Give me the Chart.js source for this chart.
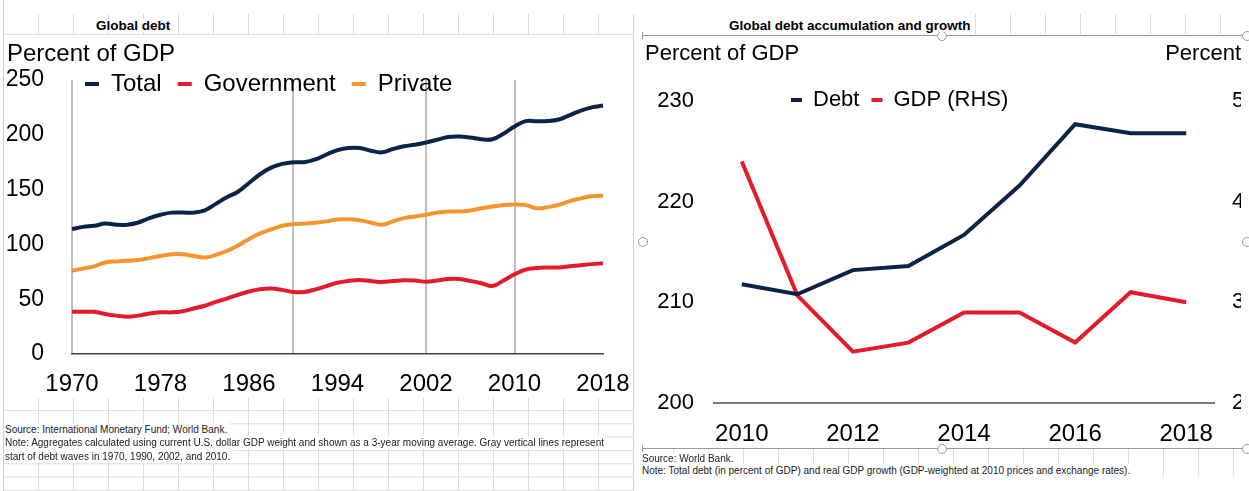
<!DOCTYPE html>
<html>
<head>
<meta charset="utf-8">
<title>Global debt</title>
<script src="https://cdn.jsdelivr.net/npm/chart.js@4.4.1/dist/chart.umd.min.js"></script>
<style>
  html, body { margin: 0; padding: 0; width: 1249px; height: 491px; overflow: hidden; background: #fff; }
  body { position: relative; font-family: 'Liberation Sans', Arial, sans-serif; color: #000; }
  .abs { position: absolute; }
  .cols { background-image: linear-gradient(to right, #dcdcdc 1px, transparent 1px); background-size: 35px 100%; }
  .rows { background-image: linear-gradient(to bottom, #dcdcdc 1px, transparent 1px); background-size: 100% 13.33px; }
  .cell { position: absolute; white-space: nowrap; background: #fff; line-height: 13px; height: 13px; padding-right: 3px; }
  .hdr { font-weight: bold; font-size: 13.5px; }
  .note { font-size: 10px; color: #222; }
  .handle { position: absolute; width: 8px; height: 8px; border: 1px solid #9a9a9a; border-radius: 50%; background: #fff; }
  canvas { position: absolute; }
</style>
</head>
<body>
  <!-- spreadsheet grid around the two charts -->
  <div class="abs cols" style="left:3px; top:14px; width:630px; height:20px; border-bottom:1px solid #dcdcdc;"></div>
  <div class="abs cols" style="left:975px; top:14px; width:274px; height:20px;"></div>
  <div class="abs cols" style="left:3px; top:398px; width:630px; height:93px;"></div>
  <div class="abs rows" style="left:3px; top:410px; width:630px; height:81px;"></div>
  <div class="abs cols" style="left:641px; top:449px; width:608px; height:28px; background-position:32px 0;"></div>
  <div class="abs" style="left:3px; top:0; width:1px; height:491px; background:#d0d0d0;"></div>
  <div class="abs" style="left:633px; top:14px; width:1px; height:477px; background:#d0d0d0;"></div>

  <!-- chart panels -->
  <div class="abs" style="left:4px; top:35px; width:629px; height:363px; background:#fff;"></div>
  <div class="abs" style="left:641px; top:36px; width:608px; height:412px; background:#fff;"></div>

  <!-- selection frame of the right chart -->
  <div class="abs" style="left:642px; top:35px; width:607px; height:1px; background:#9a9a9a;"></div>
  <div class="abs" style="left:642px; top:448px; width:607px; height:1px; background:#9a9a9a;"></div>
  <div class="abs" style="left:642px; top:32px; width:1px; height:7px; background:#9a9a9a;"></div>
  <div class="abs" style="left:642px; top:445px; width:1px; height:7px; background:#9a9a9a;"></div>
  <div class="handle" style="left:937px; top:31px;"></div>
  <div class="handle" style="left:1242px; top:31px;"></div>
  <div class="handle" style="left:937px; top:444px;"></div>
  <div class="handle" style="left:1242px; top:444px;"></div>
  <div class="handle" style="left:638px; top:237px;"></div>
  <div class="handle" style="left:1242px; top:237px;"></div>

  <!-- sheet titles -->
  <div class="cell hdr" style="left:96px; top:19px;">Global debt</div>
  <div class="cell hdr" style="left:729px; top:19px;">Global debt accumulation and growth</div>

  <canvas id="debtChart" width="635" height="384" style="left:0; top:30px;"></canvas>
  <canvas id="growthChart" width="609" height="413" style="left:640px; top:37px;"></canvas>

  <!-- notes -->
  <div class="cell note" style="left:5px; top:423px;">Source: International Monetary Fund; World Bank.</div>
  <div class="cell note" style="left:5px; top:436px;">Note: Aggregates calculated using current U.S. dollar GDP weight and shown as a 3-year moving average. Gray vertical lines represent</div>
  <div class="cell note" style="left:5px; top:449.5px;">start of debt waves in 1970, 1990, 2002, and 2010.</div>
  <div class="cell note" style="left:642px; top:451.5px;">Source: World Bank.</div>
  <div class="cell note" style="left:642px; top:464px;">Note: Total debt (in percent of GDP) and real GDP growth (GDP-weighted at 2010 prices and exchange rates).</div>
  <div class="abs" style="left:640px; top:477px; width:609px; height:14px; background:#fff;"></div>

<script>
// ---- left chart: global debt, percent of GDP ----
const years = [1970, 1971, 1972, 1973, 1974, 1975, 1976, 1977, 1978, 1979,
   1980, 1981, 1982, 1983, 1984, 1985, 1986, 1987, 1988, 1989,
   1990, 1991, 1992, 1993, 1994, 1995, 1996, 1997, 1998, 1999,
   2000, 2001, 2002, 2003, 2004, 2005, 2006, 2007, 2008, 2009,
   2010, 2011, 2012, 2013, 2014, 2015, 2016, 2017, 2018];
const tickYears = [1970, 1978, 1986, 1994, 2002, 2010, 2018];
const waveYears = [1970, 1990, 2002, 2010];

const totalDebt = [114, 116, 117, 119, 118, 118, 120, 124, 127, 129,
   129, 129, 131, 137, 143, 148, 156, 164, 170, 173.5,
   175, 175, 177.5, 182, 186, 188, 188, 185.5, 184, 187,
   189.5, 191, 193, 195.5, 198, 198.5, 197.5, 196, 196, 201,
   207.5, 212.5, 212.3, 212.5, 214, 218, 222, 225, 226.7];
const governmentDebt = [38.5, 38.5, 38.5, 36.5, 35, 34, 35, 37, 38, 38,
   39, 41.5, 44, 47.5, 50.5, 54, 57, 59, 59.7, 58.5,
   56.6, 56.6, 59, 62, 65, 66.7, 67.6, 66.5, 65.7, 66.5,
   67.3, 67, 66, 67, 68.5, 68.5, 66.7, 64.5, 62, 67,
   72.7, 77, 78.5, 79, 79, 80, 81, 82, 82.7];
const privateDebt = [76, 78, 80, 83.5, 84.5, 85, 85.7, 87.5, 89.5, 91,
   91, 89.5, 88, 90.5, 94, 99, 105, 110, 113.6, 117,
   118.5, 119, 119.7, 121, 122.7, 123, 122, 120, 118, 121,
   124, 125.5, 127, 129, 130, 130, 131, 133, 134.5, 136,
   136.5, 136, 133, 134, 136, 139.5, 142, 144, 144.5];

// ---- right chart: debt accumulation and growth ----
const growthYears = ['2010', '2011', '2012', '2013', '2014', '2015', '2016', '2017', '2018'];
const growthTickYears = ['2010', '2012', '2014', '2016', '2018'];
const debtLevel = [211.8, 210.8, 213.2, 213.6, 216.7, 221.6, 227.7, 226.8, 226.8];
const gdpGrowth = [4.40, 3.07, 2.51, 2.60, 2.90, 2.90, 2.60, 3.10, 3.00];

const NAVY = '#0b2344';
const RED = '#e31b2d';
const ORANGE = '#f3962f';

Chart.defaults.font.family = "'Liberation Sans', Arial, sans-serif";
Chart.defaults.color = '#000';

// moves the legend onto the plot area, Excel style
const legendShift = {
   id: 'legendShift',
   afterLayout(chart, args, opts) {
      const lg = chart.legend;
      if (!lg) return;
      lg.left = chart.chartArea.left + opts.x;
      lg.top = chart.chartArea.top + opts.y;
      lg.bottom = lg.top + 60;
      lg.height = 60;
      lg.width = lg.right - lg.left;
   }
};

function lineSet(label, data, color, extra) {
   return Object.assign({
      label: label,
      data: data,
      borderColor: color,
      backgroundColor: color,
      borderWidth: 4,
      pointRadius: 0,
      fill: false,
   }, extra || {});
}

new Chart(document.getElementById('debtChart'), {
   type: 'line',
   data: {
      labels: years,
      datasets: [
         lineSet('Total', totalDebt, NAVY, { tension: 0.4 }),
         lineSet('Government', governmentDebt, RED, { tension: 0.4 }),
         lineSet('Private', privateDebt, ORANGE, { tension: 0.4 }),
      ],
   },
   options: {
      responsive: false,
      animation: false,
      layout: { padding: { left: 7, right: 32, top: 0, bottom: 0 } },
      plugins: {
         title: {
            display: true,
            text: 'Percent of GDP',
            align: 'start',
            color: '#000',
            font: { size: 24, weight: 'normal' },
            padding: { top: 10, bottom: 10.2 },
         },
         legend: {
            position: 'top',
            align: 'start',
            maxHeight: 1,
            labels: { boxWidth: 14, boxHeight: 0, padding: 16, color: '#000', font: { size: 24 } },
         },
         legendShift: { x: -3, y: -24 },
         tooltip: { enabled: false },
      },
      scales: {
         x: {
            offset: false,
            grid: {
               display: true,
               drawTicks: false,
               lineWidth: 2,
               color: ctx => waveYears.includes(years[ctx.index]) ? '#bfbfbf' : 'rgba(0,0,0,0)',
            },
            border: { display: true, color: '#404040', width: 1.5 },
            ticks: {
               autoSkip: false,
               maxRotation: 0,
               padding: 16,
               color: '#000',
               font: { size: 24 },
               callback: (value, index) => tickYears.includes(years[index]) ? String(years[index]) : '',
            },
            afterFit: scale => { scale.height = 60; scale.paddingLeft = 0; scale.paddingRight = 0; },
         },
         y: {
            min: 0,
            max: 250,
            grid: { display: false, drawTicks: false },
            border: { display: false },
            ticks: { stepSize: 50, padding: 28, color: '#000', font: { size: 23 } },
            afterFit: scale => { scale.width = 65; scale.paddingTop = 0; scale.paddingBottom = 0; },
         },
      },
   },
   plugins: [legendShift],
});

new Chart(document.getElementById('growthChart'), {
   type: 'line',
   data: {
      labels: growthYears,
      datasets: [
         lineSet('Debt', debtLevel, NAVY, { yAxisID: 'y' }),
         lineSet('GDP (RHS)', gdpGrowth, RED, { yAxisID: 'y1' }),
      ],
   },
   options: {
      responsive: false,
      animation: false,
      layout: { padding: { left: 5, right: 8, top: 0, bottom: 0 } },
      plugins: {
         title: {
            display: true,
            text: 'Percent of GDP',
            align: 'start',
            color: '#000',
            font: { size: 22, weight: 'normal' },
            padding: { top: 3.8, bottom: 0 },
         },
         subtitle: {
            display: true,
            text: 'Percent',
            align: 'end',
            color: '#000',
            font: { size: 22, weight: 'normal' },
            padding: { top: -26.4, bottom: 32.8 },
         },
         legend: {
            position: 'top',
            align: 'start',
            maxHeight: 1,
            labels: { boxWidth: 11, boxHeight: 0, padding: 12, color: '#000', font: { size: 22 } },
         },
         legendShift: { x: 65, y: -24 },
         tooltip: { enabled: false },
      },
      scales: {
         x: {
            offset: true,
            grid: { display: false, drawTicks: false },
            border: { display: true, color: '#7a7a7a', width: 2 },
            ticks: {
               autoSkip: false,
               maxRotation: 0,
               padding: 17,
               color: '#000',
               font: { size: 24 },
               callback: (value, index) => growthTickYears.includes(growthYears[index]) ? growthYears[index] : '',
            },
            afterFit: scale => { scale.height = 47; scale.paddingLeft = 0; scale.paddingRight = 0; },
         },
         y: {
            position: 'left',
            min: 200,
            max: 230,
            grid: { display: false, drawTicks: false },
            border: { display: false },
            ticks: { stepSize: 10, padding: 20, color: '#000', font: { size: 22 } },
            afterFit: scale => { scale.width = 69; scale.paddingTop = 0; scale.paddingBottom = 0; },
         },
         y1: {
            position: 'right',
            min: 2,
            max: 5,
            grid: { display: false, drawTicks: false },
            border: { display: false },
            ticks: { stepSize: 1, padding: 18, color: '#000', font: { size: 22 } },
            afterFit: scale => { scale.width = 27; scale.paddingTop = 0; scale.paddingBottom = 0; },
         },
      },
   },
   plugins: [legendShift],
});
</script>
</body>
</html>
